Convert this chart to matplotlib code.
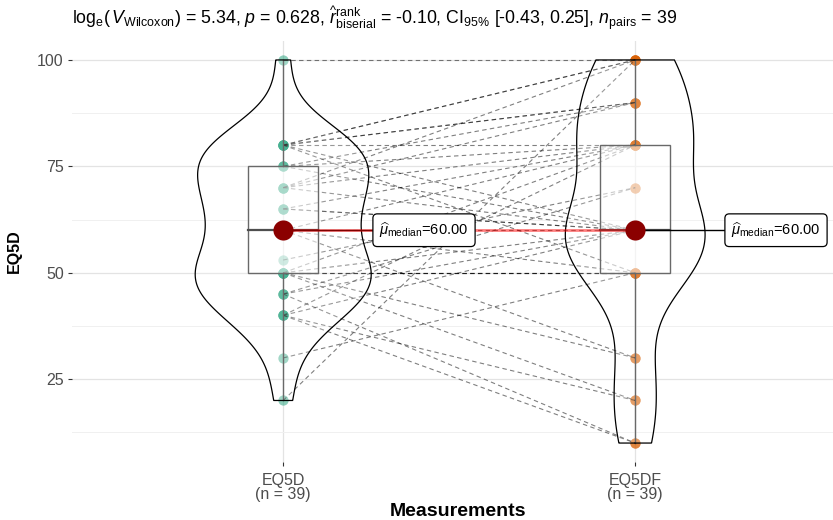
import numpy as np
import matplotlib
matplotlib.use("Agg")
import matplotlib.pyplot as plt
from matplotlib.patches import Polygon, Rectangle

plt.rcParams['font.family'] = ['Liberation Sans', 'DejaVu Sans']
plt.rcParams['mathtext.fontset'] = 'custom'
plt.rcParams['mathtext.rm'] = 'Liberation Sans'
plt.rcParams['mathtext.it'] = 'Liberation Sans:italic'
plt.rcParams['mathtext.bf'] = 'Liberation Sans:bold'

# donnees (une ligne par sujet : avant / apres)
groups = ["EQ5D", "EQ5DF"]
eq5d = [100,
        80, 80, 80, 80, 80, 80, 80,
        75, 75, 75,
        70, 70, 70, 70,
        65, 65, 65,
        60, 60, 60, 60,
        53,
        50, 50, 50, 50, 50, 50, 50,
        45, 45, 45,
        40, 40, 40, 40,
        30, 20]
eq5df = [100,
         100, 100, 90, 90, 80, 60, 50,
         80, 90, 60,
         80, 100, 60, 90,
         80, 60, 60,
         60, 30, 80, 50,
         70,
         50, 50, 50, 60, 20, 80, 30,
         60, 10, 70,
         60, 10, 20, 80,
         50, 100]
colors = ["#1B9E77", "#D95F02"]
subtitle = (r"$\mathrm{log}_{\mathrm{e}}(\,V_{\mathrm{Wilcoxon}})$ = 5.34, $p$ = 0.628, "
            r"$\widehat{r}_{\mathrm{biserial}}^{\mathrm{rank}}$ = -0.10, "
            r"CI$_{95\%}$ [-0.43, 0.25], $n_{\mathrm{pairs}}$ = 39")

W, H = 833, 520
fig = plt.figure(figsize=(W / 100, H / 100), dpi=100)
ax = fig.add_axes([72 / W, 1 - 462.2 / H, 774.4 / W, 421.4 / H])
ax.set_xlim(0.4, 2.6)
ax.set_ylim(5.5, 104.5)

# grille
ax.set_yticks([25, 50, 75, 100])
ax.set_yticks([12.5, 37.5, 62.5, 87.5], minor=True)
ax.set_xticks([1, 2])
ax.grid(which="major", color="#E3E3E3", lw=0.9)
ax.grid(which="minor", axis="y", color="#F0F0F0", lw=0.7)
ax.set_axisbelow(True)
for s in ax.spines.values():
    s.set_visible(False)
ax.tick_params(which="major", length=3, width=0.8, color="#333333",
               labelcolor="#4D4D4D", labelsize=11.5, pad=3)
ax.tick_params(axis="x", pad=5)
ax.tick_params(which="minor", length=0)
ax.set_xticklabels([f"{g}\n(n = {len(eq5d)})" for g in groups], linespacing=0.9)

data = [np.array(eq5d, float), np.array(eq5df, float)]

# points
for i, vals in enumerate(data):
    ax.scatter(np.full(len(vals), i + 1), vals, s=55, color=colors[i],
               alpha=0.5, linewidths=0, zorder=2)

# chemins entre paires
for a, b in zip(eq5d, eq5df):
    ax.plot([1, 2], [a, b], color="black", alpha=0.5, lw=0.8,
            ls=(0, (4, 3)), zorder=3)

# boxplots
for i, vals in enumerate(data):
    q1, med, q3 = np.percentile(vals, [25, 50, 75])
    iqr = q3 - q1
    lo = vals[vals >= q1 - 1.5 * iqr].min()
    hi = vals[vals <= q3 + 1.5 * iqr].max()
    x = i + 1
    ax.add_patch(Rectangle((x - 0.1, q1), 0.2, q3 - q1, fc=(1, 1, 1, 0.5),
                           ec="#444444", lw=1.0, zorder=4))
    ax.plot([x, x], [q3, hi], color="#444444", lw=1.0, zorder=4)
    ax.plot([x, x], [lo, q1], color="#444444", lw=1.0, zorder=4)
    ax.plot([x - 0.1, x + 0.1], [med, med], color="#222222", lw=1.6, zorder=4)

# violons (kde gaussienne, bw nrd0)
dens = []
for vals in data:
    n = len(vals)
    sd = vals.std(ddof=1)
    q1, q3 = np.percentile(vals, [25, 75])
    bw = 0.9 * min(sd, (q3 - q1) / 1.34) * n ** -0.2
    grid = np.linspace(vals.min(), vals.max(), 512)
    d = np.exp(-0.5 * ((grid[:, None] - vals[None, :]) / bw) ** 2).sum(1)
    d /= n * bw * np.sqrt(2 * np.pi)
    dens.append((grid, d))
dmax = max(d.max() for _, d in dens)
for i, (grid, d) in enumerate(dens):
    hw = d / dmax * 0.25
    xs = np.concatenate([i + 1 - hw, (i + 1 + hw)[::-1]])
    ys = np.concatenate([grid, grid[::-1]])
    ax.add_patch(Polygon(np.column_stack([xs, ys]), closed=True,
                         fc=(1, 1, 1, 0.2), ec="black", lw=0.9, zorder=5))

# medianes
meds = [np.median(v) for v in data]
for i, m in enumerate(meds):
    ax.plot([i + 1, i + 1.4], [m, m], color="black", lw=1.0, zorder=6)
ax.plot([1, 2], meds, color="red", alpha=0.5, lw=2.0, zorder=7)
ax.scatter([1, 2], meds, s=210, color="darkred", linewidths=0, zorder=8)
for i, m in enumerate(meds):
    ax.text(i + 1.4, m, r"$\widehat{\mu}_{\mathrm{median}}$=" + f"{m:.2f}",
            ha="center", va="center", fontsize=10.5, zorder=9,
            bbox=dict(boxstyle="round,pad=0.45,rounding_size=0.3",
                      fc="white", ec="black", lw=0.9))

# textes
ax.set_ylabel("EQ5D", fontsize=11.5, fontweight="bold")
ax.yaxis.set_label_coords(-50 / 774.4, 0.5)
fig.text(458 / W, 1 - 511 / H, "Measurements", ha="center", va="center",
         fontsize=14, fontweight="bold")
fig.text(72 / W, 1 - 24 / H, subtitle, ha="left", va="baseline", fontsize=12.8)

fig.savefig("out.png", dpi=100)
